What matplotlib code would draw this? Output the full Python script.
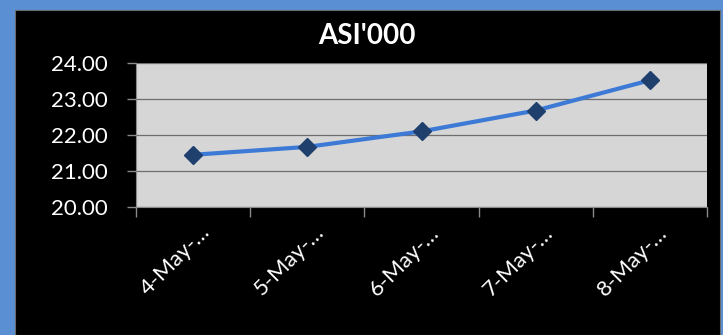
import numpy as np
import matplotlib
matplotlib.use('Agg')
import matplotlib.pyplot as plt
import matplotlib.transforms as mtransforms
from matplotlib.patches import Rectangle

# data ---------------------------------------------------------------------
dates = ['4-May-\u2026', '5-May-\u2026', '6-May-\u2026', '7-May-\u2026', '8-May-\u2026']
asi = [21.45, 21.67, 22.10, 22.68, 23.52]
yticks = [20.0, 21.0, 22.0, 23.0, 24.0]
title = "ASI'000"

plt.rcParams['font.family'] = ['Lato', 'DejaVu Sans']

fig = plt.figure(figsize=(7.23, 3.35), dpi=100)
fig.patch.set_facecolor('#5a8fd4')
# black chart panel inside the blue frame
fig.patches.append(Rectangle((15 / 723, 0), 705 / 723, 325 / 335,
                             transform=fig.transFigure, facecolor='black',
                             edgecolor='#6a6a6a', linewidth=0.8, zorder=-1))

ax = fig.add_axes([136 / 723, 1 - 207 / 335, 571 / 723, 144 / 335])
ax.set_zorder(2)
ax.set_facecolor('#d6d6d6')

x = np.arange(len(dates))
ax.plot(x, asi, color='#3c7ad6', linewidth=3, marker='D', markersize=9,
        markerfacecolor='#1f3f6c', markeredgecolor='#1f3f6c', zorder=3)

ax.set_xlim(-0.5, len(dates) - 0.5)
ax.set_ylim(yticks[0], yticks[-1])
ax.set_yticks(yticks)
ax.set_yticklabels(['{:.2f}'.format(v) for v in yticks])
ax.yaxis.grid(True, color='#6e6e6e', linewidth=0.9)
ax.set_axisbelow(True)

# category boundaries carry the tick marks, labels sit at category centres
ax.set_xticks(np.arange(len(dates) + 1) - 0.5, minor=True)
ax.set_xticks(x)
ax.set_xticklabels(dates, rotation=45, ha='right', va='center',
                   rotation_mode='anchor')
ax.tick_params(axis='x', which='major', length=0, pad=16, labelsize=16,
               labelcolor='white')
ax.tick_params(axis='x', which='minor', length=7, color='#8a8a8a', width=1)
ax.tick_params(axis='y', length=6.5, color='#8a8a8a', width=1, pad=14,
               labelsize=16, labelcolor='white')
shift = mtransforms.ScaledTranslation(14 / 100, 0, fig.dpi_scale_trans)
for lbl in ax.get_xticklabels():
    lbl.set_transform(lbl.get_transform() + shift)

for s in ['top', 'right']:
    ax.spines[s].set_visible(False)
for s in ['left', 'bottom']:
    ax.spines[s].set_color('#8a8a8a')

fig.text(367 / 723, 1 - 36 / 335, title, color='white', fontsize=20,
         fontweight='bold', ha='center', va='center', zorder=3)

fig.savefig('out.png', dpi=100, facecolor=fig.get_facecolor())
